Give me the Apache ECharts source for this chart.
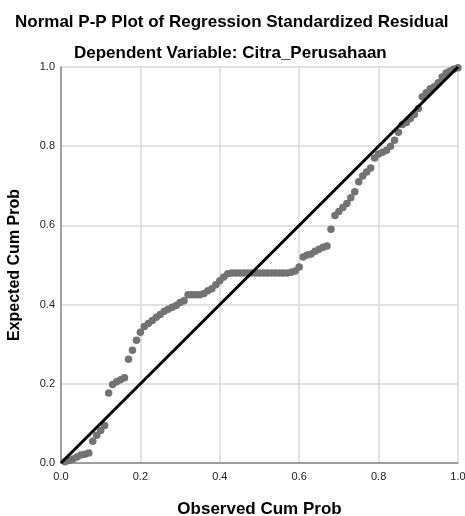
<!DOCTYPE html>
<html>
<head>
<meta charset="utf-8">
<script src="https://cdn.jsdelivr.net/npm/echarts@6/dist/echarts.min.js"></script>
<style>
html,body{margin:0;padding:0;background:#fff;}
#chart{width:465px;height:516px;}
</style>
</head>
<body>
<div id="chart"></div>
<script>
const titleText = "Normal P-P Plot of Regression Standardized Residual";
const subtitleText = "Dependent Variable: Citra_Perusahaan";
const xAxisName = "Observed Cum Prob";
const yAxisName = "Expected Cum Prob";
const tickValues = [0, 0.2, 0.4, 0.6, 0.8, 1.0];

const observedCumProb = [
  0.01,0.02,0.03,0.04,0.05,0.06,0.07,0.08,0.09,0.10,
  0.11,0.12,0.13,0.14,0.15,0.16,0.17,0.18,0.19,0.20,
  0.21,0.22,0.23,0.24,0.25,0.26,0.27,0.28,0.29,0.30,
  0.31,0.32,0.33,0.34,0.35,0.36,0.37,0.38,0.39,0.40,
  0.41,0.42,0.43,0.44,0.45,0.46,0.47,0.48,0.49,0.50,
  0.51,0.52,0.53,0.54,0.55,0.56,0.57,0.58,0.59,0.60,
  0.61,0.62,0.63,0.64,0.65,0.66,0.67,0.68,0.69,0.70,
  0.71,0.72,0.73,0.74,0.75,0.76,0.77,0.78,0.79,0.80,
  0.81,0.82,0.83,0.84,0.85,0.86,0.87,0.88,0.89,0.90,
  0.91,0.92,0.93,0.94,0.95,0.96,0.97,0.98,0.99,1.00
];
const expectedCumProb = [
  0.003,0.006,0.010,0.015,0.020,0.022,0.025,0.055,0.070,0.082,
  0.095,0.177,0.198,0.205,0.210,0.215,0.262,0.285,0.310,0.330,
  0.345,0.352,0.360,0.368,0.375,0.383,0.388,0.393,0.398,0.405,
  0.410,0.425,0.425,0.425,0.425,0.428,0.435,0.440,0.450,0.460,
  0.470,0.478,0.480,0.480,0.480,0.480,0.480,0.480,0.480,0.480,
  0.480,0.480,0.480,0.480,0.480,0.480,0.480,0.482,0.485,0.495,
  0.520,0.525,0.528,0.535,0.540,0.545,0.548,0.590,0.625,0.635,
  0.645,0.655,0.670,0.685,0.710,0.725,0.735,0.745,0.770,0.780,
  0.785,0.790,0.800,0.815,0.835,0.855,0.860,0.870,0.880,0.895,
  0.925,0.935,0.945,0.950,0.960,0.975,0.985,0.990,0.995,0.998
];
const refLine = [[0, 0], [1, 1]];

const chart = echarts.init(document.getElementById('chart'), null, {renderer: 'canvas'});
const pts = observedCumProb.map((x, i) => [x, expectedCumProb[i]]);
const fmt = v => v.toFixed(1);
chart.setOption({
  animation: false,
  backgroundColor: '#ffffff',
  title: [
    {text: titleText, left: 10, top: 9,
     textStyle: {fontFamily: 'Liberation Sans', fontWeight: 'bold', fontSize: 17, color: '#000'}},
    {text: subtitleText, left: 69, top: 40,
     textStyle: {fontFamily: 'Liberation Sans', fontWeight: 'bold', fontSize: 17, color: '#000'}}
  ],
  grid: {left: 61, right: 7, top: 67, bottom: 53, containLabel: false, outerBoundsMode: 'none'},
  xAxis: {
    type: 'value', min: 0, max: 1, interval: 0.2,
    name: xAxisName, nameLocation: 'middle', nameGap: 38,
    nameTextStyle: {fontFamily: 'Liberation Sans', fontWeight: 'bold', fontSize: 17, color: '#000'},
    axisLine: {show: true, lineStyle: {color: '#888', width: 1.5}},
    axisTick: {show: false},
    axisLabel: {formatter: fmt, fontFamily: 'Liberation Sans', fontSize: 11, color: '#222', margin: 8},
    splitLine: {show: true, lineStyle: {color: '#d9d9d9', width: 1.5}}
  },
  yAxis: {
    type: 'value', min: 0, max: 1, interval: 0.2,
    name: yAxisName, nameLocation: 'middle', nameGap: 38,
    nameTextStyle: {fontFamily: 'Liberation Sans', fontWeight: 'bold', fontSize: 16, color: '#000'},
    axisLine: {show: true, lineStyle: {color: '#888', width: 1.5}},
    axisTick: {show: false},
    axisLabel: {formatter: fmt, fontFamily: 'Liberation Sans', fontSize: 11, color: '#222', margin: 6},
    splitLine: {show: true, lineStyle: {color: '#d9d9d9', width: 1.5}}
  },
  series: [
    {type: 'scatter', data: pts, symbolSize: 7.5,
     itemStyle: {color: '#737373', opacity: 1}, z: 2},
    {type: 'line', data: refLine, symbol: 'none', silent: true,
     lineStyle: {color: '#000', width: 3}, z: 3}
  ]
});
</script>
</body>
</html>
